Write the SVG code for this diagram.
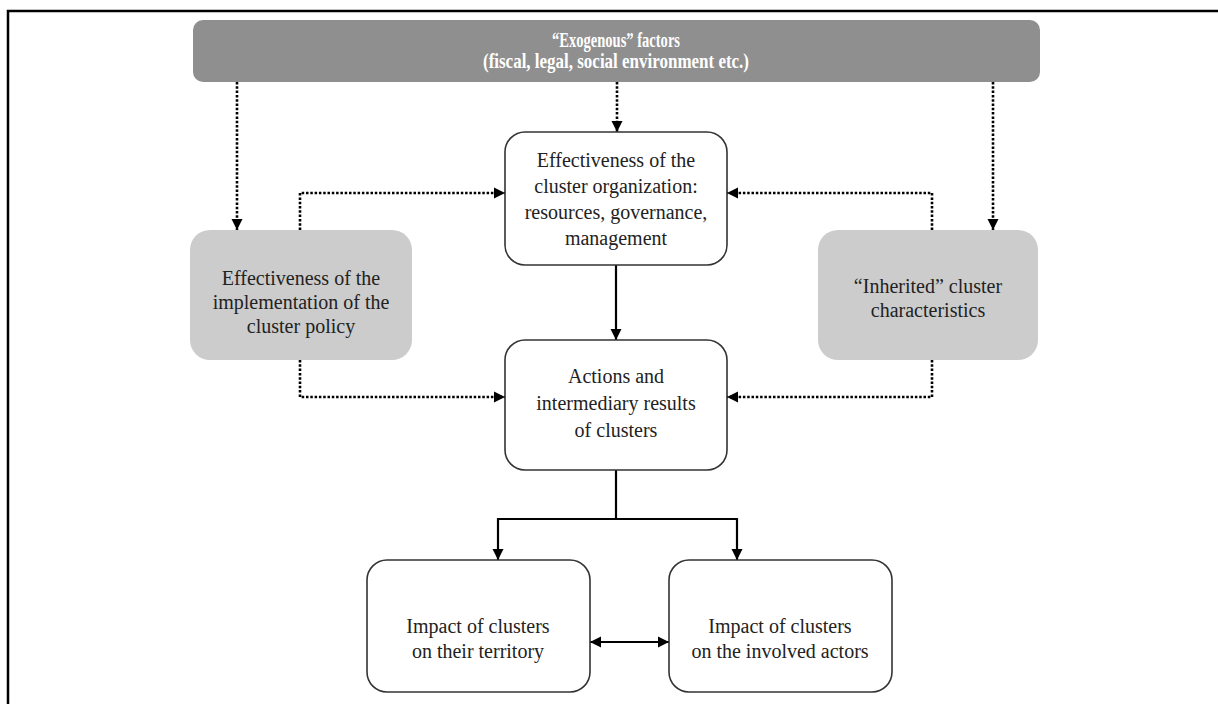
<svg xmlns="http://www.w3.org/2000/svg" width="1218" height="704" viewBox="0 0 1218 704">
<defs>
<marker id="ah" viewBox="0 0 10 10" refX="10" refY="5" markerWidth="11" markerHeight="12" markerUnits="userSpaceOnUse" orient="auto-start-reverse">
<path d="M0,0 L10,5 L0,10 Z" fill="#000"/>
</marker>
<style>
.box{fill:#fff;stroke:#333;stroke-width:1.6}
.grey{fill:#cccccc;stroke:none}
.t{font-family:"Liberation Serif","Times New Roman",serif;font-size:20px;fill:#222;text-anchor:middle}
.h{font-family:"Liberation Serif","Times New Roman",serif;font-size:20px;font-weight:bold;fill:#fff;text-anchor:middle}
.dot{fill:none;stroke:#000;stroke-width:2.6;stroke-dasharray:2.5 1.8}
.sol{fill:none;stroke:#000;stroke-width:2.2}
</style>
</defs>
<rect x="8" y="11" width="1230" height="720" fill="none" stroke="#000" stroke-width="2.5"/>
<g id="connectors">
<path class="dot" d="M237,82 V230" marker-end="url(#ah)"/>
<path class="dot" d="M617,82 V132" marker-end="url(#ah)"/>
<path class="dot" d="M993,82 V230" marker-end="url(#ah)"/>
<path class="dot" d="M300,230 V193 H505" marker-end="url(#ah)"/>
<path class="dot" d="M932,230 V193 H727" marker-end="url(#ah)"/>
<path class="dot" d="M300,360 V397 H505" marker-end="url(#ah)"/>
<path class="dot" d="M932,360 V397 H727" marker-end="url(#ah)"/>
<path class="sol" d="M616,265 V340" marker-end="url(#ah)"/>
<path class="sol" d="M616,470 V519"/>
<path class="sol" d="M498,519 H737"/>
<path class="sol" d="M498,518 V560" marker-end="url(#ah)"/>
<path class="sol" d="M737,518 V560" marker-end="url(#ah)"/>
<path class="sol" d="M590,642 H669" marker-start="url(#ah)" marker-end="url(#ah)"/>
</g>
<g id="exogenous">
<rect x="193" y="20" width="847" height="62" rx="10" fill="#8f8f8f"/>
<text class="h" x="616" y="47" textLength="128" lengthAdjust="spacingAndGlyphs">“Exogenous” factors</text>
<text class="h" x="616" y="68" textLength="266" lengthAdjust="spacingAndGlyphs">(fiscal, legal, social environment etc.)</text>
</g>
<g id="cluster-org">
<rect class="box" x="505" y="132" width="222" height="133" rx="20"/>
<text class="t" x="616" y="167">Effectiveness of the</text>
<text class="t" x="616" y="193">cluster organization:</text>
<text class="t" x="616" y="219">resources, governance,</text>
<text class="t" x="616" y="245">management</text>
</g>
<g id="policy">
<rect class="grey" x="190" y="230" width="222" height="130" rx="20"/>
<text class="t" x="301" y="285">Effectiveness of the</text>
<text class="t" x="301" y="309">implementation of the</text>
<text class="t" x="301" y="333">cluster policy</text>
</g>
<g id="inherited">
<rect class="grey" x="818" y="230" width="220" height="130" rx="20"/>
<text class="t" x="928" y="293">“Inherited” cluster</text>
<text class="t" x="928" y="317">characteristics</text>
</g>
<g id="actions">
<rect class="box" x="505" y="340" width="222" height="130" rx="20"/>
<text class="t" x="616" y="383">Actions and</text>
<text class="t" x="616" y="410">intermediary results</text>
<text class="t" x="616" y="437">of clusters</text>
</g>
<g id="territory">
<rect class="box" x="367" y="560" width="223" height="132" rx="20"/>
<text class="t" x="478" y="633">Impact of clusters</text>
<text class="t" x="478" y="658">on their territory</text>
</g>
<g id="actors">
<rect class="box" x="669" y="560" width="223" height="132" rx="20"/>
<text class="t" x="780" y="633">Impact of clusters</text>
<text class="t" x="780" y="658">on the involved actors</text>
</g>
</svg>
